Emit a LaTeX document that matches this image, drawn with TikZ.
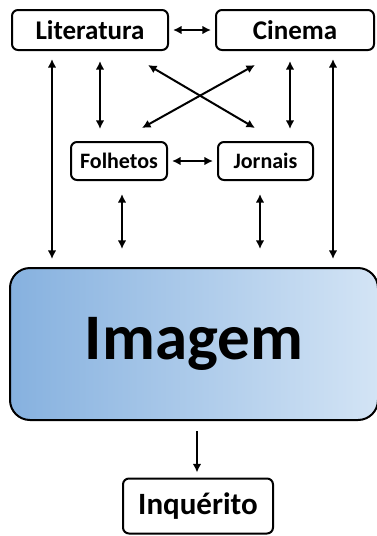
\documentclass[tikz,border=0pt]{standalone}
\usepackage{fontspec}
\setmainfont{Carlito}
\usetikzlibrary{arrows.meta, positioning, calc}

\definecolor{imgleft}{HTML}{86B1DF}
\definecolor{imgright}{HTML}{D3E4F5}

\begin{document}
\begin{tikzpicture}[
        x=1pt, y=-1pt,
        box/.style={draw, line width=2pt, rounded corners=6pt, align=center, font=\bfseries, inner sep=0pt},
        arrow/.style={-{Latex[length=3mm, width=3mm]}, line width=2pt},
        both/.style={{Latex[length=3mm, width=3mm]}-{Latex[length=3mm, width=3mm]}, line width=2pt}
        ]
        \useasboundingbox (0,0) rectangle (377,536);
        \node (lit) [box, minimum width=156pt, minimum height=40pt, font=\bfseries\fontsize{27}{29}\selectfont] at (90,30) {Literatura};
        \node (cin) [box, minimum width=158pt, minimum height=40pt, font=\bfseries\fontsize{27}{29}\selectfont] at (295,30) {Cinema};
        \node (fol) [box, minimum width=96pt, minimum height=38pt, font=\bfseries\fontsize{22}{24}\selectfont] at (119,161) {Folhetos};
        \node (jor) [box, minimum width=95pt, minimum height=38pt, font=\bfseries\fontsize{22}{24}\selectfont] at (265.5,161) {Jornais};
        \node (img) [box, rounded corners=20pt, left color=imgleft, right color=imgright, minimum width=368pt, minimum height=152pt, font=\bfseries\fontsize{65}{67}\selectfont] at (194,344) {Imagem};
        \node (inq) [box, minimum width=150pt, minimum height=55pt, font=\bfseries\fontsize{31}{33}\selectfont] at (198,506) {Inquérito};

        \coordinate (xa) at (148,65);
        \coordinate (xb) at (255,128);
        \coordinate (xc) at (255,65);
        \coordinate (xd) at (142,128);

        \draw[both, shorten <=4pt, shorten >=4pt] (lit.east) -- (cin.west);
        \draw[both, shorten <=4pt, shorten >=4pt] (fol.east) -- (jor.west);
        \draw[both, shorten <=10pt, shorten >=12pt] (lit.south -| 100,0) -- (fol.north -| 100,0);
        \draw[both, shorten <=10pt, shorten >=12pt] (cin.south -| 290,0) -- (jor.north -| 290,0);
        \draw[both] (xa) -- (xb);
        \draw[both] (xc) -- (xd);
        \draw[both, shorten <=8pt, shorten >=8pt] (lit.south -| 52,0) -- (img.north -| 52,0);
        \draw[both, shorten <=8pt, shorten >=8pt] (cin.south -| 333,0) -- (img.north -| 333,0);
        \draw[both, shorten <=13pt, shorten >=18pt] (fol.south -| 122,0) -- (img.north -| 122,0);
        \draw[both, shorten <=13pt, shorten >=18pt] (jor.south -| 260,0) -- (img.north -| 260,0);
        \draw[arrow, shorten <=10pt, shorten >=5pt] (img.south -| 197,0) -- (inq.north -| 197,0);
    \end{tikzpicture}
\end{document}
